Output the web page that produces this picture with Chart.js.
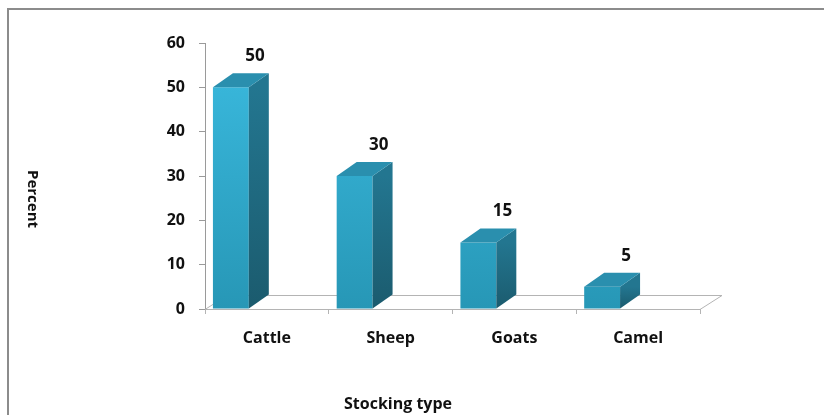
<!DOCTYPE html>
<html>
<head>
<meta charset="utf-8">
<script src="https://cdn.jsdelivr.net/npm/chart.js@4.4.1/dist/chart.umd.min.js"></script>
<style>
  html, body { margin: 0; padding: 0; background: #fff; }
  #chart { display: block; }
</style>
</head>
<body>
<canvas id="chart" width="824" height="415"></canvas>
<script>
// données du graphique
var categories = ['Cattle', 'Sheep', 'Goats', 'Camel'];
var percentValues = [50, 30, 15, 5];
var yMin = 0;
var yMax = 60;
var yStep = 10;
var xTitle = 'Stocking type';
var yTitle = 'Percent';

// réglages de l'effet 3D (style Excel)
var SHIFT = -36;   // décalage de la face avant vers la gauche
var DX = 20;       // profondeur horizontale
var DY = -14;      // profondeur verticale
var FLOOR_DX = 22;

var FONT = '"Open Sans", Lato, sans-serif';

function frontGradient(context) {
	var chart = context.chart;
	var area = chart.chartArea;
	if (!area) return '#33aad0';
	var g = chart.ctx.createLinearGradient(0, area.top, 0, area.bottom);
	g.addColorStop(0, '#3bbbe0');
	g.addColorStop(1, '#2797b6');
	return g;
}

var box3d = {
	id: 'box3d',
	beforeDraw: function (chart) {
		var ctx = chart.ctx;
		// cadre gris (haut et gauche)
		ctx.save();
		ctx.strokeStyle = '#8c8c8c';
		ctx.lineWidth = 2;
		ctx.beginPath();
		ctx.moveTo(8, chart.height);
		ctx.lineTo(8, 9);
		ctx.lineTo(chart.width, 9);
		ctx.stroke();
		ctx.restore();
	},
	beforeDatasetsDraw: function (chart) {
		var ctx = chart.ctx;
		var a = chart.chartArea;
		// sol 3D
		ctx.save();
		ctx.strokeStyle = '#b4b4b4';
		ctx.lineWidth = 1;
		ctx.beginPath();
		ctx.moveTo(a.left, a.bottom + 0.5);
		ctx.lineTo(a.left + FLOOR_DX, a.bottom + DY + 0.5);
		ctx.lineTo(a.right + FLOOR_DX, a.bottom + DY + 0.5);
		ctx.lineTo(a.right, a.bottom + 0.5);
		ctx.stroke();
		ctx.restore();
		ctx.save();
		ctx.translate(SHIFT, 0);
	},
	afterDatasetsDraw: function (chart) {
		var ctx = chart.ctx;
		ctx.restore();
		var meta = chart.getDatasetMeta(0);
		var data = chart.data.datasets[0].data;
		meta.data.forEach(function (el, i) {
			var p = el.getProps(['x', 'y', 'base', 'width'], true);
			var fl = p.x - p.width / 2 + SHIFT;
			var fr = fl + p.width;
			var top = p.y;
			var base = p.base;

			// face latérale
			var gs = ctx.createLinearGradient(0, top, 0, base);
			gs.addColorStop(0, '#237690');
			gs.addColorStop(1, '#1b5b6e');
			ctx.fillStyle = gs;
			ctx.beginPath();
			ctx.moveTo(fr, top);
			ctx.lineTo(fr + DX, top + DY);
			ctx.lineTo(fr + DX, base + DY);
			ctx.lineTo(fr, base);
			ctx.closePath();
			ctx.fill();

			// face du dessus
			ctx.fillStyle = '#2a8fae';
			ctx.beginPath();
			ctx.moveTo(fl, top);
			ctx.lineTo(fl + DX, top + DY);
			ctx.lineTo(fr + DX, top + DY);
			ctx.lineTo(fr, top);
			ctx.closePath();
			ctx.fill();

			// étiquette de valeur
			ctx.fillStyle = '#111';
			ctx.font = 'bold 17px ' + FONT;
			ctx.textAlign = 'center';
			ctx.textBaseline = 'middle';
			ctx.fillText(String(data[i]), p.x + SHIFT + 24, top + DY - 17);
		});

		// titres des axes
		ctx.save();
		ctx.fillStyle = '#111';
		ctx.font = 'bold 16px ' + FONT;
		ctx.textAlign = 'center';
		ctx.textBaseline = 'middle';
		ctx.fillText(xTitle, 398, 404);
		ctx.font = 'bold 15px ' + FONT;
		ctx.translate(32, 199);
		ctx.rotate(Math.PI / 2);
		ctx.fillText(yTitle, 0, 0);
		ctx.restore();
	}
};

var chart = new Chart(document.getElementById('chart'), {
	type: 'bar',
	data: {
		labels: categories,
		datasets: [{
			data: percentValues,
			backgroundColor: frontGradient,
			borderWidth: 0,
			barPercentage: 0.29,
			categoryPercentage: 1
		}]
	},
	options: {
		responsive: false,
		animation: false,
		devicePixelRatio: 1,
		layout: { padding: { top: 43, right: 124, left: 0, bottom: 0 } },
		plugins: { legend: { display: false }, tooltip: { enabled: false } },
		scales: {
			y: {
				min: yMin,
				max: yMax,
				ticks: { stepSize: yStep, color: '#111', padding: 14, font: { family: FONT, size: 16, weight: 'bold' } },
				grid: { drawOnChartArea: false, tickLength: 6, color: '#9a9a9a' },
				border: { color: '#9a9a9a' },
				afterFit: function (s) { s.width = 205; }
			},
			x: {
				ticks: { color: '#111', padding: 15, font: { family: FONT, size: 16, weight: 'bold' } },
				grid: { drawOnChartArea: false, tickLength: 5, color: '#b4b4b4', offset: true },
				border: { color: '#b4b4b4' },
				afterFit: function (s) { s.height = 106; }
			}
		}
	},
	plugins: [box3d]
});
</script>
</body>
</html>
